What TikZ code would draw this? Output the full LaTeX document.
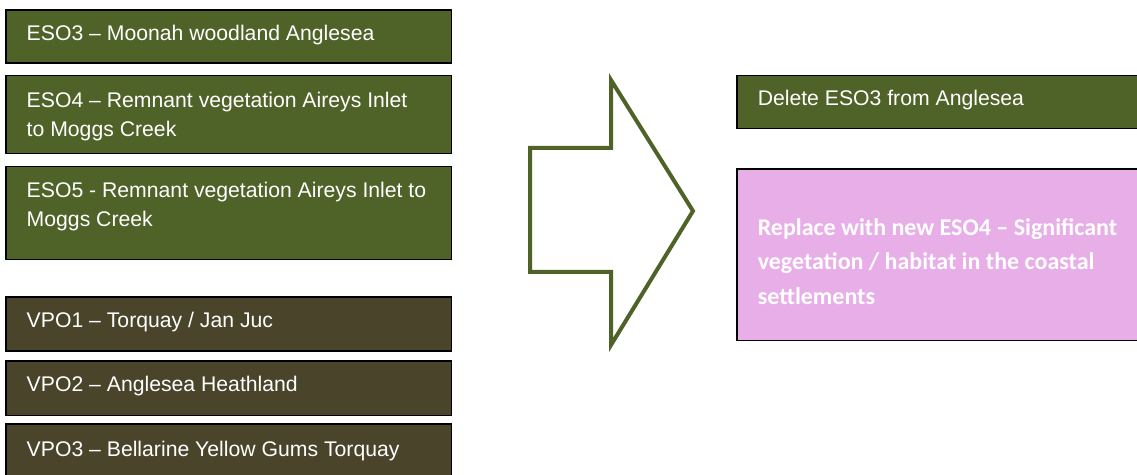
\documentclass[tikz,border=0pt]{standalone}
\usepackage{fontspec}
\setmainfont{Liberation Sans}
\newfontfamily\calibrifont[Ligatures=TeX]{Carlito}
\usepackage{tikz}
\definecolor{esogreen}{HTML}{4F6228}
\definecolor{vpobrown}{HTML}{4A442B}
\definecolor{newpink}{HTML}{E8AEE8}

\tikzset{
    overlay box/.style={draw=black, line width=0.75pt, anchor=north west,
        inner xsep=10.5pt, inner ysep=0pt, text=white,
        font=\fontsize{10.6}{14.5}\selectfont},
    eso box/.style={overlay box, fill=esogreen},
    vpo box/.style={overlay box, fill=vpobrown},
    new box/.style={overlay box, fill=newpink,
        font=\calibrifont\bfseries\fontsize{12}{17.25}\selectfont}
}

\begin{document}
\begin{tikzpicture}[x=0.5pt, y=-0.5pt]
        \useasboundingbox (0,0) rectangle (1137,475);

        % Current overlays
        \node[eso box] (eso3) at (5,9.5)
            {\parbox[t][26.5pt][t]{201.75pt}{\rule{0pt}{15.3pt}ESO3 -- Moonah woodland Anglesea}};
        \node[eso box] (eso4) at (5,75)
            {\parbox[t][39pt][t]{201.75pt}{\raggedright\rule{0pt}{15.8pt}ESO4 -- Remnant vegetation Aireys Inlet\\ to Moggs Creek}};
        \node[eso box] (eso5) at (5,166)
            {\parbox[t][46.5pt][t]{201.75pt}{\raggedright\rule{0pt}{15.3pt}ESO5 - Remnant vegetation Aireys Inlet to\\ Moggs Creek}};

        \node[vpo box] (vpo1) at (5,296.5)
            {\parbox[t][27pt][t]{201.75pt}{\rule{0pt}{15.3pt}VPO1 -- Torquay / Jan Juc}};
        \node[vpo box] (vpo2) at (5,360.5)
            {\parbox[t][27.25pt][t]{201.75pt}{\rule{0pt}{15.3pt}VPO2 -- Anglesea Heathland}};
        \node[vpo box] (vpo3) at (5,423.5)
            {\parbox[t][30pt][t]{201.75pt}{\rule{0pt}{16.3pt}VPO3 -- Bellarine Yellow Gums Torquay}};

        % Block arrow
        \draw[esogreen, line width=2pt, fill=white, line join=miter]
            (530,148) -- (611,148) -- (611,80) -- (693,211) -- (611,345)
            -- (611,272) -- (530,272) -- cycle;

        % Proposed changes
        \node[eso box] (delete) at (736,75)
            {\parbox[t][26.5pt][t]{190pt}{\rule{0pt}{14.8pt}Delete ESO3 from Anglesea}};
        \node[new box] (replace) at (736,168.5)
            {\parbox[t][85.75pt][t]{190pt}{\raggedright\rule{0pt}{33.1pt}Replace with new ESO4 -- Significant\\ vegetation / habitat in the coastal\\ settlements}};
    \end{tikzpicture}
\end{document}
